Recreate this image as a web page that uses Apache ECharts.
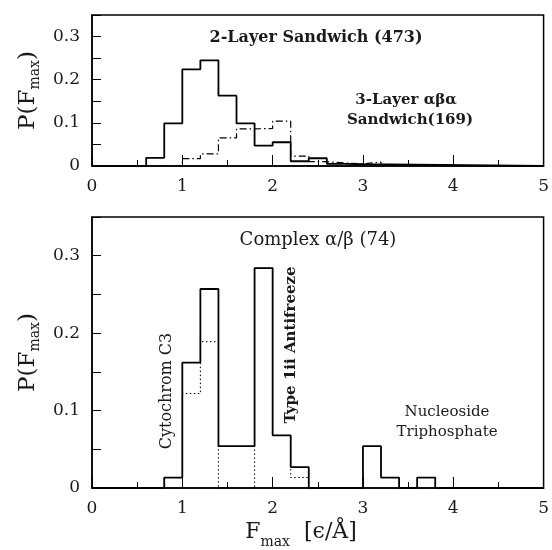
<!DOCTYPE html>
<html>
<head>
<meta charset="utf-8">
<script src="https://cdn.jsdelivr.net/npm/echarts@6/dist/echarts.min.js"></script>
<style>html,body{margin:0;padding:0;background:#fff}#c{width:552px;height:550px}</style>
</head>
<body>
<div id="c"></div>
<script>
// ---- data ----
const xTicks = [0, 1, 2, 3, 4, 5];
const topEdges = [0.6, 0.8, 1.0, 1.2, 1.4, 1.6, 1.8, 2.0, 2.2, 2.4, 2.6, 2.8, 3.0, 3.2];
const twoLayer = [0.019, 0.099, 0.224, 0.245, 0.163, 0.099, 0.047, 0.055, 0.011, 0.018, 0.005, 0.004];
const threeLayer = [0, 0, 0.017, 0.028, 0.065, 0.086, 0.087, 0.104, 0.023, 0.010, 0.007, 0.005, 0.009];
const botEdges = [0.8, 1.0, 1.2, 1.4, 1.6, 1.8, 2.0, 2.2, 2.4, 2.6, 2.8, 3.0, 3.2, 3.4, 3.6, 3.8];
const complexAll = [0.0135, 0.162, 0.257, 0.054, 0.054, 0.284, 0.068, 0.027, 0, 0, 0, 0.054, 0.0135, 0, 0.0135];
const complexSub = [0.0135, 0.122, 0.189, 0, 0, 0.284, 0.068, 0.0135];

function stepData(edges, vals, fromZero) {
  const pts = [];
  if (fromZero) pts.push([0, 0]);
  else pts.push([edges[0], 0]);
  for (let i = 0; i < vals.length; i++) pts.push([edges[i], vals[i]]);
  pts.push([edges[vals.length], 0]);
  if (fromZero) pts.push([5, 0]);
  return pts;
}

const serif = 'DejaVu Serif';
const ink = '#1a1a1a';

function xAxisCfg(gi) {
  return {
    type: 'value', gridIndex: gi, min: 0, max: 5, interval: 1,
    axisLine: {show: true, lineStyle: {color: '#000', width: 1.5}},
    axisTick: {show: true, inside: true, length: 11, lineStyle: {color: '#000', width: 1}},
    minorTick: {show: true, splitNumber: 2, length: 6, lineStyle: {color: '#000', width: 1}},
    splitLine: {show: false}, minorSplitLine: {show: false},
    axisLabel: {margin: 12, fontFamily: serif, fontSize: 17, color: ink,
      formatter: v => xTicks.includes(Math.round(v)) ? String(Math.round(v)) : ''}
  };
}
function yAxisCfg(gi, gap) {
  return {
    type: 'value', gridIndex: gi, min: 0, max: 0.35, interval: 0.05,
    axisLine: {show: true, lineStyle: {color: '#000', width: 1.5}},
    axisTick: {show: true, inside: true, length: 9, lineStyle: {color: '#000', width: 1}},
    splitLine: {show: false},
    axisLabel: {margin: 12, fontFamily: serif, fontSize: 17, color: ink,
      formatter: v => { const k = Math.round(v * 100); return k % 10 === 0 && k <= 30 ? (k === 0 ? '0' : (k / 100).toFixed(1)) : ''; }},
    name: '{a|P(F}{b|max}{a|)}',
    nameLocation: 'middle', nameRotate: 90, nameGap: gap,
    nameTextStyle: {
      rich: {
        a: {fontFamily: serif, fontSize: 23, color: ink},
        b: {fontFamily: serif, fontSize: 14, color: ink, padding: [0, 0, -3, 0], verticalAlign: 'bottom'}
      }
    }
  };
}

const chart = echarts.init(document.getElementById('c'), null, {renderer: 'canvas'});
const txt = (x, y, text, size, weight, rot) => ({
  type: 'text', x: x, y: y, rotation: rot || 0, z: 100,
  style: {text: text, fontFamily: serif, fontSize: size, fontWeight: weight || 'normal', fill: ink, align: 'center', verticalAlign: 'middle'}
});

chart.setOption({
  animation: false,
  grid: [
    {left: 92, right: 6, top: 15, height: 151, show: true, borderColor: '#000', borderWidth: 1.5, containLabel: false},
    {left: 92, right: 6, top: 217, height: 271, show: true, borderColor: '#000', borderWidth: 1.5, containLabel: false}
  ],
  xAxis: [xAxisCfg(0), xAxisCfg(1)],
  yAxis: [yAxisCfg(0, 48), yAxisCfg(1, 48)],
  series: [
    {type: 'line', xAxisIndex: 0, yAxisIndex: 0, step: 'end', showSymbol: false, symbol: 'none',
      data: stepData(topEdges, threeLayer, false), lineStyle: {color: '#000', width: 1.2, type: [7, 3, 1.5, 3]}},
    {type: 'line', xAxisIndex: 0, yAxisIndex: 0, step: 'end', showSymbol: false, symbol: 'none',
      data: stepData(topEdges, twoLayer, true), lineStyle: {color: '#000', width: 1.8}},
    {type: 'line', xAxisIndex: 1, yAxisIndex: 1, step: 'end', showSymbol: false, symbol: 'none',
      data: stepData(botEdges, complexSub, false), lineStyle: {color: '#000', width: 1, type: [1.5, 2.5]}},
    {type: 'line', xAxisIndex: 1, yAxisIndex: 1, step: 'end', showSymbol: false, symbol: 'none',
      data: stepData(botEdges, complexAll, true), lineStyle: {color: '#000', width: 1.8}}
  ],
  graphic: [
    txt(316, 38, '2-Layer Sandwich (473)', 16, 'bold'),
    txt(406, 100, '3-Layer αβα', 15, 'bold'),
    txt(410, 120, 'Sandwich(169)', 15, 'bold'),
    txt(318, 240, 'Complex α/β (74)', 18),
    txt(167, 391, 'Cytochrom C3', 16, 'normal', Math.PI / 2),
    txt(291, 345, 'Type 1ii Antifreeze', 15, 'bold', Math.PI / 2),
    txt(447, 412, 'Nucleoside', 15),
    txt(447, 432, 'Triphosphate', 15),
    {type: 'text', x: 301, y: 532, z: 100, style: {
      text: '{f|F}{s|max}{f|  [ϵ/Å]}', align: 'center', verticalAlign: 'middle',
      rich: {
        f: {fontFamily: serif, fontSize: 22, fill: ink},
        s: {fontFamily: serif, fontSize: 14, fill: ink, padding: [0, 0, -6, 0], verticalAlign: 'bottom'}
      }
    }}
  ]
});
</script>
</body>
</html>
